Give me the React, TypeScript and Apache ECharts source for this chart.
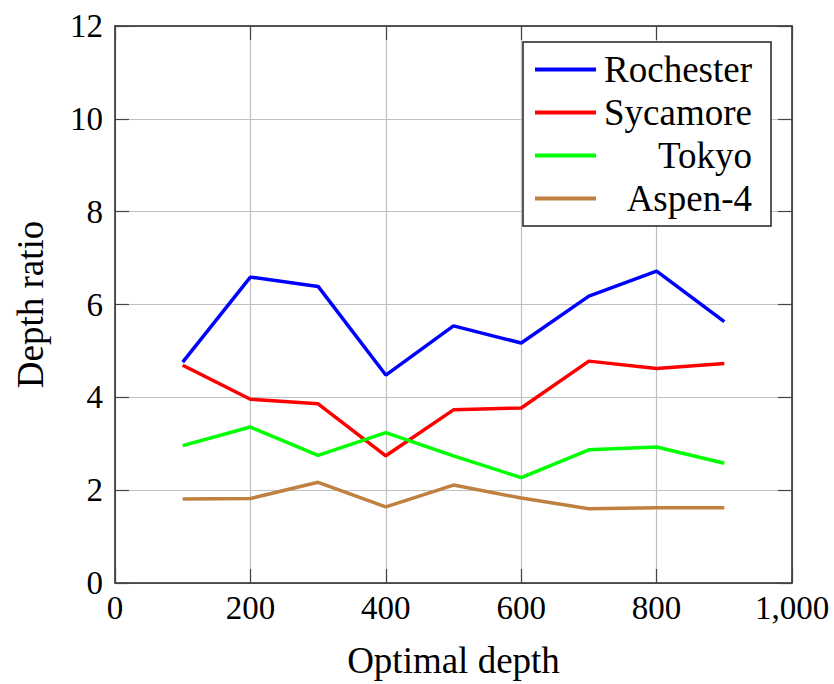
import React, { useEffect, useRef } from "react";
import * as echarts from "echarts";

const depths = [100, 200, 300, 400, 500, 600, 700, 800, 900];
const rochester = [4.76, 6.59, 6.39, 4.48, 5.54, 5.17, 6.18, 6.72, 5.63];
const sycamore = [4.69, 3.96, 3.86, 2.74, 3.73, 3.77, 4.78, 4.62, 4.73];
const tokyo = [2.96, 3.36, 2.75, 3.24, 2.74, 2.27, 2.87, 2.93, 2.58];
const aspen4 = [1.81, 1.82, 2.17, 1.64, 2.11, 1.83, 1.6, 1.62, 1.62];
const seriesNames = ["Rochester", "Sycamore", "Tokyo", "Aspen-4"];
const seriesColors = ["#0000ff", "#ff0000", "#00ff00", "#bf8040"];

const FONT = "'Liberation Serif', 'DejaVu Serif', serif";

export default function App() {
  const ref = useRef<HTMLDivElement>(null);
  useEffect(() => {
    if (!ref.current) return;
    const chart = echarts.init(ref.current, undefined, { renderer: "svg" });
    const all = [rochester, sycamore, tokyo, aspen4];
    const tickStyle = { show: true, inside: true, length: 14, lineStyle: { color: "#444", width: 1.2 } };
    const lineStyle = { color: "#222", width: 1.5 };
    chart.setOption({
      animation: false,
      backgroundColor: "#fff",
      textStyle: { fontFamily: FONT },
      grid: { left: 115, right: 42, top: 26, bottom: 98 },
      legend: {
        orient: "vertical",
        left: 523,
        top: 42,
        backgroundColor: "#fff",
        borderColor: "#222",
        borderWidth: 1.5,
        padding: [9, 19, 9, 12],
        itemWidth: 61,
        itemHeight: 4,
        itemGap: 6,
        icon: "rect",
        data: seriesNames,
        formatter: (n: string) => `{a|${n}}`,
        textStyle: {
          fontFamily: FONT,
          fontSize: 37,
          color: "#000",
          rich: { a: { width: 151, align: "right", fontSize: 37, fontFamily: FONT, color: "#000" } },
        },
      },
      xAxis: [
        {
          type: "value",
          min: 0,
          max: 1000,
          interval: 200,
          name: "Optimal depth",
          nameLocation: "middle",
          nameGap: 59,
          nameTextStyle: { fontFamily: FONT, fontSize: 37, color: "#000" },
          axisLine: { show: true, onZero: false, lineStyle },
          axisTick: tickStyle,
          axisLabel: {
            fontFamily: FONT,
            fontSize: 33,
            color: "#000",
            margin: 8,
            formatter: (v: number) => v.toLocaleString("en-US"),
          },
          splitLine: { show: true, lineStyle: { color: "#c0c0c0", width: 1.2 } },
        },
        {
          type: "value",
          position: "top",
          min: 0,
          max: 1000,
          interval: 200,
          axisLine: { show: true, onZero: false, lineStyle },
          axisTick: tickStyle,
          axisLabel: { show: false },
          splitLine: { show: false },
        },
      ],
      yAxis: [
        {
          type: "value",
          min: 0,
          max: 12,
          interval: 2,
          name: "Depth ratio",
          nameLocation: "middle",
          nameGap: 66,
          nameTextStyle: { fontFamily: FONT, fontSize: 37, color: "#000" },
          axisLine: { show: true, onZero: false, lineStyle },
          axisTick: tickStyle,
          axisLabel: { fontFamily: FONT, fontSize: 33, color: "#000", margin: 12 },
          splitLine: { show: true, lineStyle: { color: "#c0c0c0", width: 1.2 } },
        },
        {
          type: "value",
          position: "right",
          min: 0,
          max: 12,
          interval: 2,
          axisLine: { show: true, onZero: false, lineStyle },
          axisTick: tickStyle,
          axisLabel: { show: false },
          splitLine: { show: false },
        },
      ],
      series: seriesNames.map((name, i) => ({
        name,
        type: "line",
        xAxisIndex: 0,
        yAxisIndex: 0,
        symbol: "none",
        data: depths.map((d, j) => [d, all[i][j]]),
        lineStyle: { color: seriesColors[i], width: 3.5 },
        itemStyle: { color: seriesColors[i] },
      })),
    });
    return () => chart.dispose();
  }, []);
  return (
    <div
      ref={ref}
      style={{ position: "absolute", left: 0, top: 0, width: 834, height: 684 }}
    />
  );
}
